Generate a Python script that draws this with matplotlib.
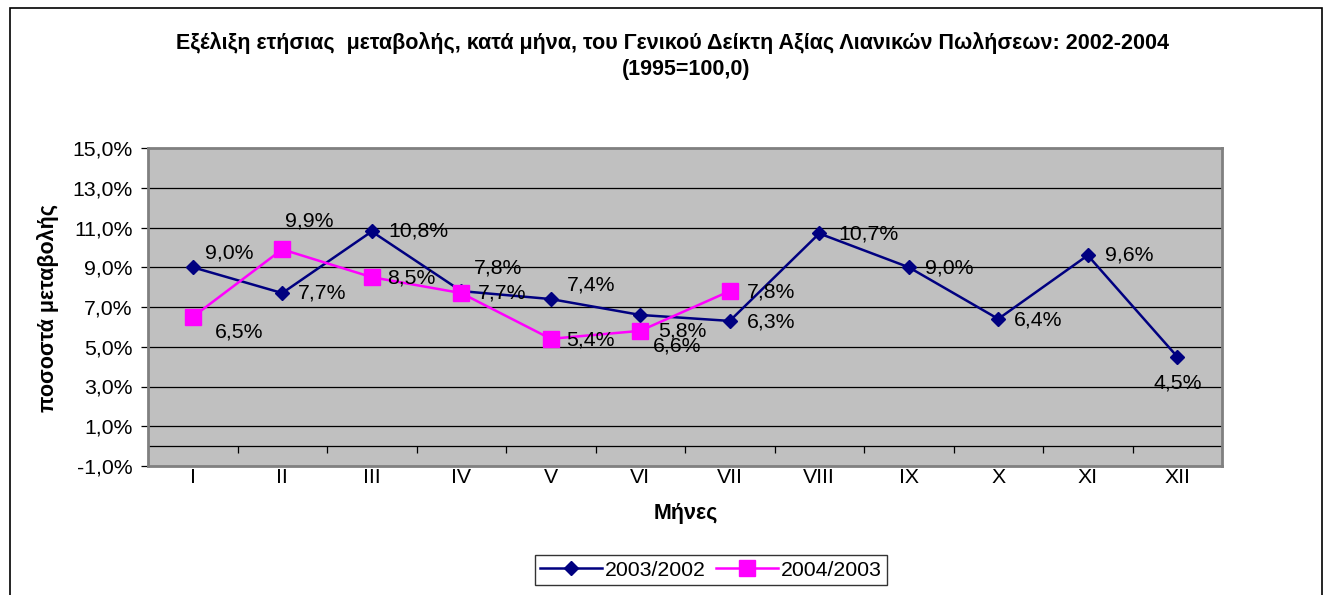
import matplotlib
matplotlib.use('Agg')
import matplotlib.pyplot as plt
from matplotlib.patches import Rectangle
from matplotlib.ticker import FuncFormatter

# ---- data ----
months = ['I', 'II', 'III', 'IV', 'V', 'VI', 'VII', 'VIII', 'IX', 'X', 'XI', 'XII']
s1_name = '2003/2002'
s1_values = [9.0, 7.7, 10.8, 7.8, 7.4, 6.6, 6.3, 10.7, 9.0, 6.4, 9.6, 4.5]
s2_name = '2004/2003'
s2_values = [6.5, 9.9, 8.5, 7.7, 5.4, 5.8, 7.8]
y_ticks = [-1, 1, 3, 5, 7, 9, 11, 13, 15]

title1 = 'Εξέλιξη ετήσιας  μεταβολής, κατά μήνα, του Γενικού Δείκτη Αξίας Λιανικών Πωλήσεων: 2002-2004'
title2 = '(1995=100,0)'
ylabel = 'ποσοστά μεταβολής'
xlabel = 'Μήνες'

# label offsets in pixels (dx, dy)
s1_off = [(37, 14), (40, 0), (47, 0), (37, 23), (40, 14), (37, -31), (41, -1),
          (49, -1), (41, -1), (40, -1), (41, 0), (0, -26)]
s2_off = [(46, -15), (27, 28), (40, -1), (41, 0), (40, -1), (42, 0), (41, -1)]

FS = 15.3
plt.rcParams['font.family'] = ['Liberation Sans', 'DejaVu Sans']

W, H = 1329, 595
fig = plt.figure(figsize=(W / 100, H / 100), dpi=100)
fig.patch.set_facecolor('white')

# outer chart frame
fig.patches.append(Rectangle((10 / W, -0.05), 1312 / W, 1 - 8 / H + 0.05,
                             transform=fig.transFigure, fill=False,
                             edgecolor='black', linewidth=1.2))

L, R, T, B = 148, 1222, 148, 466
ax = fig.add_axes([L / W, 1 - B / H, (R - L) / W, (B - T) / H])
ax.set_facecolor('#C0C0C0')

x1 = list(range(1, len(s1_values) + 1))
x2 = list(range(1, len(s2_values) + 1))

ax.set_xlim(0.5, len(months) + 0.5)
ax.set_ylim(-1, 15)
ax.set_yticks(y_ticks)
ax.yaxis.set_major_formatter(FuncFormatter(lambda v, p: f'{v:.1f}%'.replace('.', ',')))
ax.set_xticks(x1)
ax.set_xticklabels(months)

for yv in y_ticks[1:-1]:
    ax.axhline(yv, color='#000000', linewidth=0.9, zorder=1)
ax.axhline(0, color='#000000', linewidth=0.9, zorder=1)
# category boundary tick marks on the zero line
bounds = [i + 0.5 for i in range(0, len(months) + 1)]
ax.vlines(bounds, -0.35, 0, color='#000000', linewidth=0.9, zorder=1)

l1, = ax.plot(x1, s1_values, color='#000080', linewidth=1.8, marker='D',
              markersize=7.5, markerfacecolor='#000080', markeredgecolor='#000080',
              zorder=3, label=s1_name)
l2, = ax.plot(x2, s2_values, color='#FF00FF', linewidth=1.8, marker='s',
              markersize=11, markerfacecolor='#FF00FF', markeredgecolor='#FF00FF',
              zorder=3, label=s2_name)

def fmt(v):
    return f'{v:.1f}%'.replace('.', ',')

for xv, yv, (dx, dy) in zip(x1, s1_values, s1_off):
    ax.annotate(fmt(yv), (xv, yv), xytext=(dx, dy), textcoords='offset pixels',
                ha='center', va='center', fontsize=FS, color='black', zorder=5)
for xv, yv, (dx, dy) in zip(x2, s2_values, s2_off):
    ax.annotate(fmt(yv), (xv, yv), xytext=(dx, dy), textcoords='offset pixels',
                ha='center', va='center', fontsize=FS, color='black', zorder=5)

for s in ax.spines.values():
    s.set_color('#808080')
    s.set_linewidth(2)

ax.tick_params(axis='y', length=5, width=0.9, color='black', pad=6, labelsize=FS)
ax.tick_params(axis='x', length=0, pad=1.5, labelsize=FS)

fig.text(673 / W, 1 - 43 / H, title1, ha='center', va='center', fontsize=15.5,
         fontweight='bold')
fig.text(686 / W, 1 - 70 / H, title2, ha='center', va='center', fontsize=15.5,
         fontweight='bold')
fig.text(48 / W, 1 - 308 / H, ylabel, ha='center', va='center', rotation=90,
         fontsize=15.5, fontweight='bold')
fig.text(686 / W, 1 - 514 / H, xlabel, ha='center', va='center', fontsize=15.5,
         fontweight='bold')

leg = fig.legend(handles=[l1, l2], loc='center', bbox_to_anchor=(711 / W, 1 - 570 / H),
                 ncol=2, frameon=True, fancybox=False, edgecolor='black',
                 fontsize=FS, handlelength=2.9, handletextpad=0.15,
                 columnspacing=0.5, borderpad=0.25, borderaxespad=0)
leg.get_frame().set_linewidth(1)

fig.savefig('out.png', dpi=100)
